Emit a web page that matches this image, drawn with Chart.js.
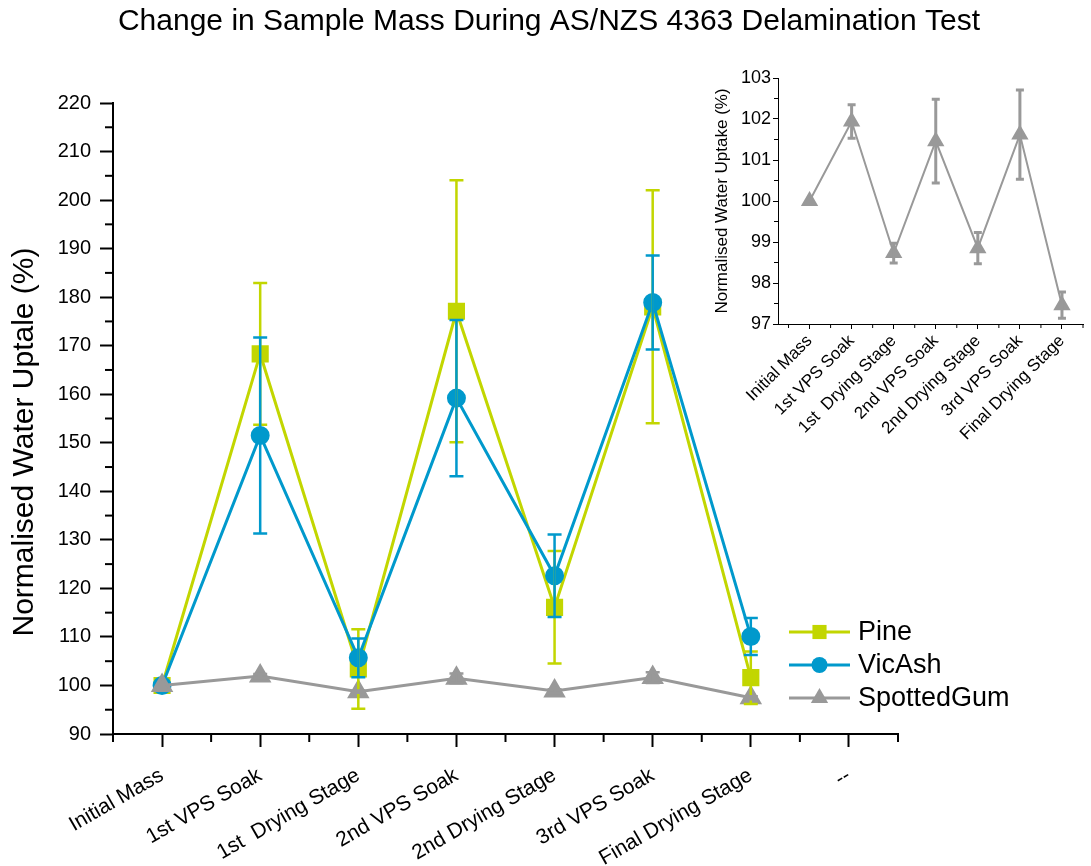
<!DOCTYPE html>
<html>
<head>
<meta charset="utf-8">
<script src="https://cdn.jsdelivr.net/npm/chart.js@4.4.1/dist/chart.umd.min.js"></script>
<style>
  html, body { margin: 0; padding: 0; background: #fff; overflow: hidden; }
  #wrap { position: relative; width: 1091px; height: 866px; overflow: hidden; }
  #mainChart { position: absolute; left: 0; top: 0; }
  #insetChart { position: absolute; left: 690px; top: 60px; }
</style>
</head>
<body>
<div id="wrap">
  <canvas id="mainChart" width="1091" height="866"></canvas>
  <canvas id="insetChart" width="403" height="390"></canvas>
</div>
<script>
// --- Data ---
const chartTitle = 'Change in Sample Mass During AS/NZS 4363 Delamination Test';
const mainYTitle = 'Normalised Water Uptale (%)';
const insetYTitle = 'Normalised Water Uptake (%)';
const categories = ['Initial Mass', '1st VPS Soak', '1st  Drying Stage', '2nd VPS Soak',
                    '2nd Drying Stage', '3rd VPS Soak', 'Final Drying Stage', '--'];

const pineMean    = [100, 168.3, 103.4, 177.1, 116.1, 178.0, 101.6];
const pineErr     = [0, 14.6, 8.2, 27.0, 11.6, 24.0, 5.4];
const vicAshMean  = [100, 151.5, 105.7, 159.2, 122.6, 178.9, 110.1];
const vicAshErr   = [0, 20.2, 4.0, 16.1, 8.5, 9.7, 3.8];
const spottedMean = [100, 101.94, 98.73, 101.46, 98.85, 101.62, 97.46];
const spottedErr  = [0, 0.41, 0.24, 1.02, 0.38, 1.09, 0.32];

// --- Styling ---
const FONT = "'Liberation Sans', Arial, sans-serif";
const PINE = '#c2d600';
const VICASH = '#0099cc';
const GUM = '#999999';

const toPoints = vals => vals.map((v, i) => ({ x: i, y: v }));

// error bars drawn from the dataset's "errors" array through the chart scales
const errorBarPlugin = {
  id: 'errorBars',
  afterDatasetsDraw(chart, args, opts) {
    const { ctx } = chart;
    const xs = chart.scales.x, ys = chart.scales.y;
    ctx.save();
    ctx.lineWidth = opts.lineWidth;
    chart.data.datasets.forEach(ds => {
      if (!ds.errors) return;
      ctx.strokeStyle = ds.borderColor;
      ds.data.forEach((p, i) => {
        const e = ds.errors[i];
        if (!e) return;
        const px = xs.getPixelForValue(p.x);
        const top = ys.getPixelForValue(p.y + e);
        const bot = ys.getPixelForValue(p.y - e);
        ctx.beginPath();
        ctx.moveTo(px, top); ctx.lineTo(px, bot);
        ctx.moveTo(px - opts.cap, top); ctx.lineTo(px + opts.cap, top);
        ctx.moveTo(px - opts.cap, bot); ctx.lineTo(px + opts.cap, bot);
        ctx.stroke();
      });
    });
    ctx.restore();
  }
};

// short minor ticks between the labelled ones
const minorTickPlugin = {
  id: 'minorTicks',
  afterDraw(chart, args, opts) {
    const { ctx } = chart;
    ctx.save();
    ctx.strokeStyle = '#000';
    ctx.lineWidth = opts.width;
    const xs = chart.scales.x, ys = chart.scales.y;
    for (let k = Math.ceil(xs.min / opts.xStep); k * opts.xStep <= xs.max; k++) {
      const v = k * opts.xStep;
      if (Math.abs(v - Math.round(v)) < 1e-6) continue;
      const px = xs.getPixelForValue(v);
      ctx.beginPath(); ctx.moveTo(px, ys.bottom); ctx.lineTo(px, ys.bottom + opts.len); ctx.stroke();
    }
    for (let k = Math.ceil(ys.min / opts.yStep); k * opts.yStep <= ys.max; k++) {
      const v = k * opts.yStep;
      if (Math.abs(v / opts.yMajor - Math.round(v / opts.yMajor)) < 1e-6) continue;
      const py = ys.getPixelForValue(v);
      ctx.beginPath(); ctx.moveTo(xs.left, py); ctx.lineTo(xs.left - opts.len, py); ctx.stroke();
    }
    ctx.restore();
  }
};

// rotated y axis title, placed a little below the axis centre like the original
const yTitlePlugin = {
  id: 'yTitle',
  afterDraw(chart, args, opts) {
    const { ctx } = chart;
    ctx.save();
    ctx.translate(opts.x, opts.y);
    ctx.rotate(-Math.PI / 2);
    ctx.font = `${opts.fontSize}px ${FONT}`;
    ctx.fillStyle = '#000';
    ctx.textAlign = 'center';
    ctx.textBaseline = 'middle';
    ctx.fillText(opts.text, 0, 0);
    ctx.restore();
  }
};

function drawMarker(ctx, style, x, y, r) {
  ctx.beginPath();
  if (style === 'rect') {
    const s = Math.SQRT1_2 * r;
    ctx.rect(x - s, y - s, 2 * s, 2 * s);
  } else if (style === 'circle') {
    ctx.arc(x, y, r, 0, Math.PI * 2);
  } else {
    ctx.moveTo(x, y - r);
    ctx.lineTo(x + r * Math.sin(Math.PI * 2 / 3), y + r * 0.5);
    ctx.lineTo(x - r * Math.sin(Math.PI * 2 / 3), y + r * 0.5);
    ctx.closePath();
  }
  ctx.fill();
}

// legend on the right: line + marker + label
const sideLegendPlugin = {
  id: 'sideLegend',
  afterDraw(chart, args, opts) {
    const { ctx } = chart;
    ctx.save();
    ctx.font = `${opts.fontSize}px ${FONT}`;
    ctx.textBaseline = 'middle';
    ctx.textAlign = 'left';
    opts.items.forEach((name, i) => {
      const ds = chart.data.datasets.find(d => d.label === name);
      const y = opts.y + i * opts.rowGap;
      ctx.strokeStyle = ds.borderColor;
      ctx.fillStyle = ds.borderColor;
      ctx.lineWidth = ds.borderWidth;
      ctx.beginPath(); ctx.moveTo(opts.x, y); ctx.lineTo(opts.x + opts.lineLen, y); ctx.stroke();
      drawMarker(ctx, ds.pointStyle, opts.x + opts.lineLen / 2, y, ds.pointRadius);
      ctx.fillStyle = '#000';
      ctx.fillText(name, opts.x + opts.lineLen + 8, y + 1);
    });
    ctx.restore();
  }
};

// --- Main chart ---
const mainChart = new Chart(document.getElementById('mainChart'), {
  type: 'line',
  data: {
    datasets: [
      { label: 'Pine', data: toPoints(pineMean), errors: pineErr, borderColor: PINE, backgroundColor: PINE,
        pointBackgroundColor: PINE, borderWidth: 3, pointStyle: 'rect', pointRadius: 10, order: 3 },
      { label: 'VicAsh', data: toPoints(vicAshMean), errors: vicAshErr, borderColor: VICASH, backgroundColor: VICASH,
        pointBackgroundColor: VICASH, borderWidth: 3, pointStyle: 'circle', pointRadius: 8, order: 2 },
      { label: 'SpottedGum', data: toPoints(spottedMean), errors: spottedErr, borderColor: GUM, backgroundColor: GUM,
        pointBackgroundColor: GUM, borderWidth: 3, pointStyle: 'triangle', pointRadius: 10, order: 1 }
    ]
  },
  options: {
    responsive: false,
    animation: false,
    layout: { padding: { left: 7, right: 0, top: 0, bottom: 0 } },
    plugins: {
      legend: { display: false },
      tooltip: { enabled: false },
      title: {
        display: true, text: chartTitle, color: '#000',
        font: { family: FONT, size: 30, weight: 'normal' },
        padding: { top: 4, bottom: 63 }
      },
      errorBars: { lineWidth: 2.5, cap: 7 },
      minorTicks: { xStep: 0.5, yStep: 5, yMajor: 10, len: 8, width: 2 },
      yTitle: { text: mainYTitle, x: 25, y: 442, fontSize: 30 },
      sideLegend: { items: ['Pine', 'VicAsh', 'SpottedGum'], x: 789, y: 632, rowGap: 33, lineLen: 61, fontSize: 27 }
    },
    scales: {
      x: {
        type: 'linear', min: -0.5, max: 7.5,
        afterBuildTicks: s => { s.ticks = categories.map((c, i) => ({ value: i })); },
        afterFit: s => { s.height = 132; },
        ticks: {
          callback: v => categories[v] ?? '', autoSkip: false, minRotation: 30, maxRotation: 30,
          color: '#000', font: { family: FONT, size: 21 }, padding: 16
        },
        grid: { drawOnChartArea: false, tickLength: 13, tickWidth: 2, tickColor: '#000' },
        border: { color: '#000', width: 2 }
      },
      y: {
        min: 90, max: 220,
        afterFit: s => { s.width = 106; },
        ticks: { stepSize: 10, color: '#000', font: { family: FONT, size: 20 }, padding: 9 },
        grid: { drawOnChartArea: false, tickLength: 13, tickWidth: 2, tickColor: '#000' },
        border: { color: '#000', width: 2 }
      },
      // empty right-hand box that holds the legend space
      legendSpace: {
        type: 'linear', position: 'right', display: true,
        afterFit: s => { s.width = 193; },
        ticks: { display: false },
        grid: { display: false },
        border: { display: false }
      }
    }
  },
  plugins: [errorBarPlugin, minorTickPlugin, yTitlePlugin, sideLegendPlugin]
});

// --- Inset chart (SpottedGum only) ---
const insetChart = new Chart(document.getElementById('insetChart'), {
  type: 'line',
  data: {
    datasets: [
      { label: 'SpottedGum', data: toPoints(spottedMean), errors: spottedErr, borderColor: GUM, backgroundColor: GUM,
        pointBackgroundColor: GUM, borderWidth: 2, pointStyle: 'triangle', pointRadius: 8 }
    ]
  },
  options: {
    responsive: false,
    animation: false,
    layout: { padding: { left: 0, right: 0, top: 18, bottom: 0 } },
    plugins: {
      legend: { display: false },
      tooltip: { enabled: false },
      errorBars: { lineWidth: 3, cap: 4 },
      minorTicks: { xStep: 0.5, yStep: 0.5, yMajor: 1, len: 4, width: 1 }
    },
    scales: {
      x: {
        type: 'linear', min: -0.75, max: 6.5,
        afterBuildTicks: s => { s.ticks = categories.slice(0, 7).map((c, i) => ({ value: i })); },
        afterFit: s => { s.height = 126; },
        ticks: {
          callback: v => categories[v] ?? '', autoSkip: false, minRotation: 45, maxRotation: 45,
          color: '#000', font: { family: FONT, size: 17 }, padding: 2
        },
        grid: { drawOnChartArea: false, tickLength: 5, tickWidth: 1, tickColor: '#000' },
        border: { color: '#000', width: 1 }
      },
      y: {
        min: 97, max: 103,
        afterFit: s => { s.width = 88; },
        ticks: { stepSize: 1, color: '#000', font: { family: FONT, size: 18 }, padding: 2 },
        grid: { drawOnChartArea: false, tickLength: 5, tickWidth: 1, tickColor: '#000' },
        border: { color: '#000', width: 1 },
        title: {
          display: true, text: insetYTitle, color: '#000',
          font: { family: FONT, size: 17 }, padding: { top: 22 }
        }
      }
    }
  },
  plugins: [errorBarPlugin, minorTickPlugin]
});
</script>
</body>
</html>
